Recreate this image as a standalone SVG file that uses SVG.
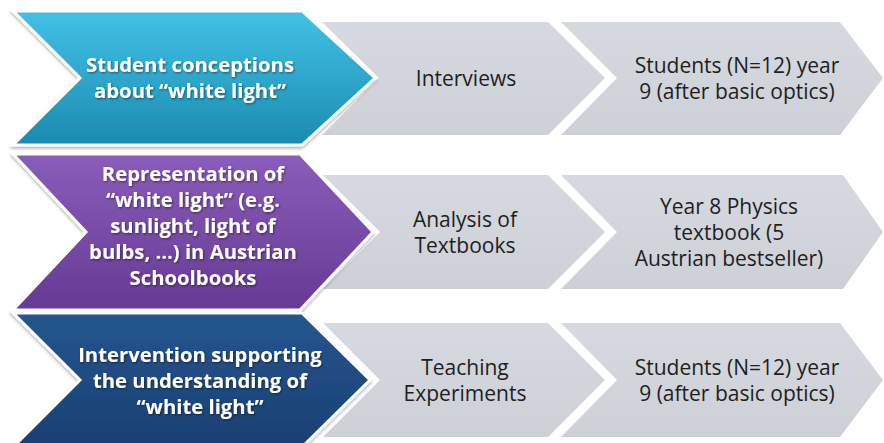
<svg xmlns="http://www.w3.org/2000/svg" width="884" height="443" viewBox="0 0 884 443">
<defs>
<linearGradient id="gCyan" x1="0" y1="0" x2="0" y2="1">
<stop offset="0" stop-color="#42c2e6"/><stop offset="1" stop-color="#1b8bb0"/>
</linearGradient>
<linearGradient id="gPurple" x1="0" y1="0" x2="0" y2="1">
<stop offset="0" stop-color="#8a5dbb"/><stop offset="1" stop-color="#653a93"/>
</linearGradient>
<linearGradient id="gNavy" x1="0" y1="0" x2="0" y2="1">
<stop offset="0" stop-color="#25568f"/><stop offset="1" stop-color="#1b3f72"/>
</linearGradient>
<linearGradient id="gGray" x1="0" y1="0" x2="0" y2="1">
<stop offset="0" stop-color="#d6d9df"/><stop offset="1" stop-color="#cdd0d6"/>
</linearGradient>
<filter id="ts" x="-10%" y="-20%" width="120%" height="150%">
<feDropShadow dx="1" dy="1.2" stdDeviation="0.8" flood-color="#000" flood-opacity="0.45"/>
</filter>
<filter id="ss" x="-5%" y="-5%" width="110%" height="115%">
<feDropShadow dx="0" dy="2" stdDeviation="1.5" flood-color="#000" flood-opacity="0.3"/>
</filter>
</defs>
<style>
.gray{fill:url(#gGray);}
.main{stroke:#ffffff;stroke-width:3;stroke-linejoin:miter;filter:url(#ss);}
.lt{font-family:"Open Sans","Liberation Sans",sans-serif;font-size:21px;fill:#1e1e1e;text-anchor:middle;}
.bt{font-family:"Open Sans","Liberation Sans",sans-serif;font-size:20.3px;font-weight:bold;fill:#ffffff;text-anchor:middle;filter:url(#ts);}
</style>

<!-- Row 1 -->
<g id="r1c3">
<polygon class="gray" points="561,22 840,22 883,78 840,135 561,135 617,78"/>
<text class="lt" x="737" y="73">Students (N=12) year</text>
<text class="lt" x="737" y="99">9 (after basic optics)</text>
</g>
<g id="r1c2">
<polygon class="gray" points="322,22 548,22 605,78 548,135 322,135 379,78"/>
<text class="lt" x="466" y="86">Interviews</text>
</g>
<g id="r1c1">
<polygon class="main" fill="url(#gCyan)" points="13,11 302,11 375,78 302,145 13,145 80,78"/>
<text class="bt" x="190" y="72">Student conceptions</text>
<text class="bt" x="190" y="98">about “white light”</text>
</g>

<!-- Row 2 -->
<g id="r2c3">
<polygon class="gray" points="561,175 843,175 883,232 843,289 561,289 617,232"/>
<text class="lt" x="729" y="214">Year 8 Physics</text>
<text class="lt" x="729" y="240">textbook (5</text>
<text class="lt" x="729" y="266">Austrian bestseller)</text>
</g>
<g id="r2c2">
<polygon class="gray" points="323,175 548,175 605,232 548,289 323,289 380,232"/>
<text class="lt" x="465" y="227">Analysis of</text>
<text class="lt" x="465" y="253">Textbooks</text>
</g>
<g id="r2c1">
<polygon class="main" fill="url(#gPurple)" points="13,154 300,154 373,232 300,310 13,310 86,232"/>
<text class="bt" x="193" y="181">Representation of</text>
<text class="bt" x="193" y="207">“white light” (e.g.</text>
<text class="bt" x="193" y="233">sunlight, light of</text>
<text class="bt" x="193" y="259">bulbs, …) in Austrian</text>
<text class="bt" x="193" y="285">Schoolbooks</text>
</g>

<!-- Row 3 -->
<g id="r3c3">
<polygon class="gray" points="561,323 840,323 883,380 840,437 561,437 617,380"/>
<text class="lt" x="737" y="375">Students (N=12) year</text>
<text class="lt" x="737" y="401">9 (after basic optics)</text>
</g>
<g id="r3c2">
<polygon class="gray" points="323,323 548,323 605,380 548,437 323,437 380,380"/>
<text class="lt" x="465" y="375">Teaching</text>
<text class="lt" x="465" y="401">Experiments</text>
</g>
<g id="r3c1">
<polygon class="main" fill="url(#gNavy)" points="13,313 302,313 370,380 302,447 13,447 80,380"/>
<text class="bt" x="200" y="362">Intervention supporting</text>
<text class="bt" x="200" y="388">the understanding of</text>
<text class="bt" x="200" y="414">“white light”</text>
</g>
</svg>
